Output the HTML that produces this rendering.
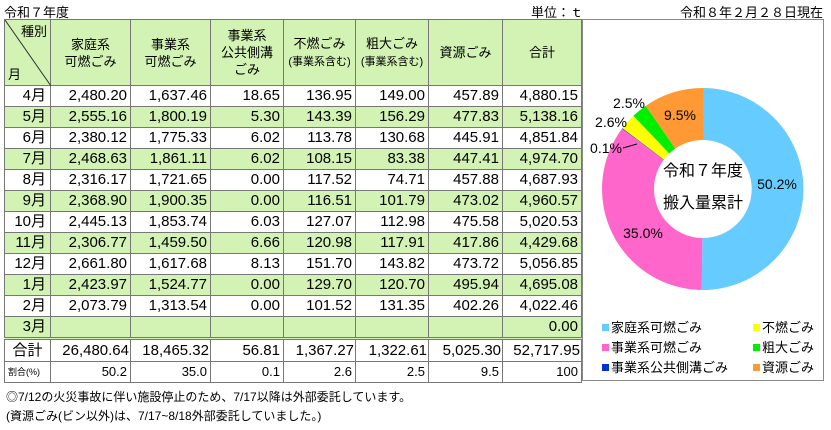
<!DOCTYPE html>
<html><head><meta charset="utf-8">
<style>
*{margin:0;padding:0;box-sizing:border-box}
body{width:831px;height:430px;background:#fff;font-family:"Liberation Sans","Noto Sans CJK JP",sans-serif;color:#000;position:relative;overflow:hidden}
.t{position:absolute;white-space:nowrap}
table{position:absolute;left:4px;top:19px;border-collapse:collapse;table-layout:fixed}
td{border:1px solid #777;font-size:15px;text-align:right;padding:0 3px;height:21px;line-height:20px}
tr.g td{background:#d3f3b4}
tr.h td{background:#d3f3b4;text-align:center;font-size:13px;line-height:17px;height:66px}
td.m{padding-right:4px}
tr.tot td{border-top:3px double #777;height:23px}
tr.pct td{font-size:13px;height:19px;border-top:1px dotted #999}
</style></head><body>
<div class="t" style="left:4px;top:2px;font-size:13px">令和７年度</div>
<div class="t" style="left:531px;top:2px;font-size:13px">単位：ｔ</div>
<div class="t" style="left:680px;top:2px;font-size:13px">令和８年２月２８日現在</div>
<table>
<colgroup><col style="width:46px"><col style="width:80px"><col style="width:80px"><col style="width:73px"><col style="width:72px"><col style="width:73px"><col style="width:74px"><col style="width:79px"></colgroup>
<tr class="h"><td style="position:relative;padding:0">
<svg style="position:absolute;left:0;top:0" width="46" height="66"><line x1="0" y1="0" x2="46" y2="66" stroke="#333"/></svg>
<span style="position:absolute;right:3px;top:3px">種別</span><span style="position:absolute;left:3px;bottom:2px">月</span></td>
<td>家庭系<br>可燃ごみ</td><td>事業系<br>可燃ごみ</td><td>事業系<br>公共側溝<br>ごみ</td><td>不燃ごみ<br><span style="font-size:11px">(事業系含む)</span></td><td>粗大ごみ<br><span style="font-size:11px">(事業系含む)</span></td><td>資源ごみ</td><td>合計</td></tr>
<tr><td class="m">4月</td><td>2,480.20</td><td>1,637.46</td><td>18.65</td><td>136.95</td><td>149.00</td><td>457.89</td><td>4,880.15</td></tr>
<tr class="g"><td class="m">5月</td><td>2,555.16</td><td>1,800.19</td><td>5.30</td><td>143.39</td><td>156.29</td><td>477.83</td><td>5,138.16</td></tr>
<tr><td class="m">6月</td><td>2,380.12</td><td>1,775.33</td><td>6.02</td><td>113.78</td><td>130.68</td><td>445.91</td><td>4,851.84</td></tr>
<tr class="g"><td class="m">7月</td><td>2,468.63</td><td>1,861.11</td><td>6.02</td><td>108.15</td><td>83.38</td><td>447.41</td><td>4,974.70</td></tr>
<tr><td class="m">8月</td><td>2,316.17</td><td>1,721.65</td><td>0.00</td><td>117.52</td><td>74.71</td><td>457.88</td><td>4,687.93</td></tr>
<tr class="g"><td class="m">9月</td><td>2,368.90</td><td>1,900.35</td><td>0.00</td><td>116.51</td><td>101.79</td><td>473.02</td><td>4,960.57</td></tr>
<tr><td class="m">10月</td><td>2,445.13</td><td>1,853.74</td><td>6.03</td><td>127.07</td><td>112.98</td><td>475.58</td><td>5,020.53</td></tr>
<tr class="g"><td class="m">11月</td><td>2,306.77</td><td>1,459.50</td><td>6.66</td><td>120.98</td><td>117.91</td><td>417.86</td><td>4,429.68</td></tr>
<tr><td class="m">12月</td><td>2,661.80</td><td>1,617.68</td><td>8.13</td><td>151.70</td><td>143.82</td><td>473.72</td><td>5,056.85</td></tr>
<tr class="g"><td class="m">1月</td><td>2,423.97</td><td>1,524.77</td><td>0.00</td><td>129.70</td><td>120.70</td><td>495.94</td><td>4,695.08</td></tr>
<tr><td class="m">2月</td><td>2,073.79</td><td>1,313.54</td><td>0.00</td><td>101.52</td><td>131.35</td><td>402.26</td><td>4,022.46</td></tr>
<tr class="g"><td class="m">3月</td><td></td><td></td><td></td><td></td><td></td><td></td><td>0.00</td></tr>
<tr class="tot"><td style="text-align:center;padding:0">合計</td><td style="padding:0 1px">26,480.64</td><td style="padding:0 1px">18,465.32</td><td>56.81</td><td style="padding:0 1px">1,367.27</td><td style="padding:0 1px">1,322.61</td><td style="padding:0 1px">5,025.30</td><td style="padding:0 1px">52,717.95</td></tr>
<tr class="pct"><td style="font-size:9px;text-align:left">割合(%)</td><td>50.2</td><td>35.0</td><td>0.1</td><td>2.6</td><td>2.5</td><td>9.5</td><td>100</td></tr>
</table>
<svg class="t" style="left:0;top:0" width="831" height="430">
<rect x="582.5" y="19.5" width="241" height="361" fill="none" stroke="#888"/>
<path d="M703,88 A101,101 0 1 1 701.73,290 L702.38,238 A49,49 0 1 0 703,140 Z" fill="#66ccff"/>
<path d="M701.73,290 A101,101 0 0 1 622.04,128.62 L663.72,159.71 A49,49 0 0 0 702.38,238 Z" fill="#ff66cc"/>
<path d="M622.04,128.62 A101,101 0 0 1 622.42,128.11 L663.91,159.46 A49,49 0 0 0 663.72,159.71 Z" fill="#0033cc"/>
<path d="M622.42,128.11 A101,101 0 0 1 633.41,115.8 L669.24,153.48 A49,49 0 0 0 663.91,159.46 Z" fill="#ffff00"/>
<path d="M633.41,115.8 A101,101 0 0 1 645.71,105.82 L675.21,148.64 A49,49 0 0 0 669.24,153.48 Z" fill="#00ee00"/>
<path d="M645.71,105.82 A101,101 0 0 1 703,88 L703,140 A49,49 0 0 0 675.21,148.64 Z" fill="#ff9933"/>
<line x1="623" y1="148" x2="637" y2="144" stroke="#000"/>
<g font-size="14" font-family="Liberation Sans,sans-serif" text-anchor="middle">
<text x="777" y="189">50.2%</text><text x="643" y="238">35.0%</text>
<text x="606" y="153">0.1%</text><text x="611" y="127">2.6%</text>
<text x="629" y="108">2.5%</text><text x="680" y="120">9.5%</text>
</g>
<g font-size="16" font-family="Liberation Sans,Noto Sans CJK JP,sans-serif" text-anchor="middle">
<text x="703" y="176">令和７年度</text><text x="703" y="208">搬入量累計</text>
</g>
<g font-size="13" font-family="Liberation Sans,Noto Sans CJK JP,sans-serif">
<rect x="602" y="324" width="7" height="7" fill="#66ccff"/><text x="611" y="332">家庭系可燃ごみ</text>
<rect x="602" y="344" width="7" height="7" fill="#ff66cc"/><text x="611" y="352">事業系可燃ごみ</text>
<rect x="602" y="364" width="7" height="7" fill="#0033cc"/><text x="611" y="372">事業系公共側溝ごみ</text>
<rect x="753" y="324" width="7" height="7" fill="#ffff00"/><text x="762" y="332">不燃ごみ</text>
<rect x="753" y="344" width="7" height="7" fill="#00ee00"/><text x="762" y="352">粗大ごみ</text>
<rect x="753" y="364" width="7" height="7" fill="#ff9933"/><text x="762" y="372">資源ごみ</text>
</g>
</svg>
<div class="t" style="left:6px;top:388px;font-size:12px">◎7/12の火災事故に伴い施設停止のため、7/17以降は外部委託しています。</div>
<div class="t" style="left:6px;top:407px;font-size:12px">(資源ごみ(ビン以外)は、7/17~8/18外部委託していました。)</div>
</body></html>
